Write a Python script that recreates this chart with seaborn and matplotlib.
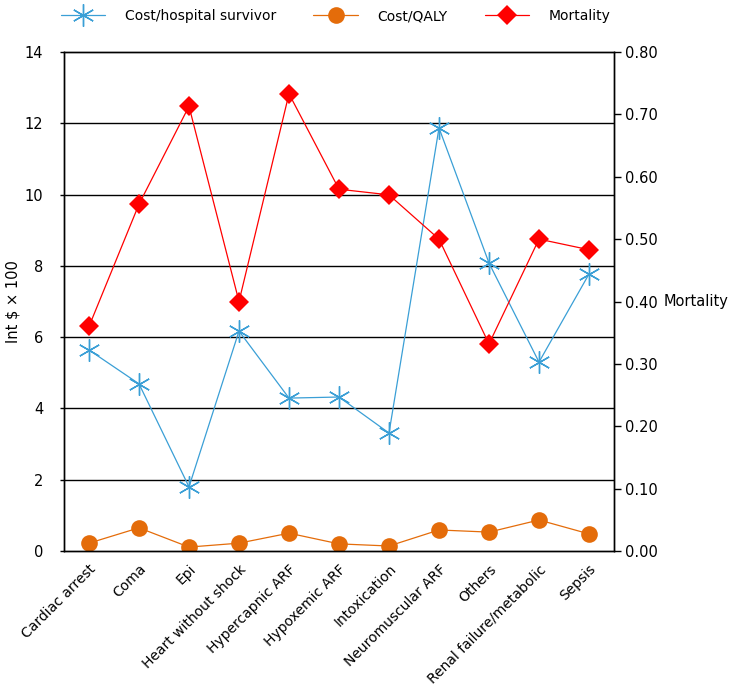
import matplotlib
matplotlib.use("Agg")
import matplotlib.pyplot as plt
import seaborn as sns
import pandas as pd
import numpy as np
from matplotlib.lines import Line2D

categories = ["Cardiac arrest", "Coma", "Epi", "Heart without shock", "Hypercapnic ARF",
              "Hypoxemic ARF", "Intoxication", "Neuromuscular ARF", "Others",
              "Renal failure/metabolic", "Sepsis"]
cost_survivor = [5.64, 4.69, 1.80, 6.17, 4.29, 4.32, 3.31, 11.87, 8.08, 5.30, 7.77]
cost_qaly = [0.22, 0.65, 0.11, 0.22, 0.50, 0.20, 0.14, 0.59, 0.53, 0.87, 0.48]
mortality = [0.36, 0.556, 0.713, 0.40, 0.733, 0.58, 0.571, 0.50, 0.332, 0.50, 0.483]
left_ticks = [0, 2, 4, 6, 8, 10, 12, 14]
right_ticks = [0.0, 0.1, 0.2, 0.3, 0.4, 0.5, 0.6, 0.7, 0.8]

sns.set_theme(style="white")
plt.rcParams['font.family'] = ['DejaVu Sans']
plt.rcParams['text.color'] = 'black'
plt.rcParams['axes.labelcolor'] = 'black'
plt.rcParams['xtick.color'] = 'black'
plt.rcParams['ytick.color'] = 'black'

BLUE = "#3A9FD6"
ORANGE = "#E46C0A"
RED = "#FF0000"

df = pd.DataFrame({"pos": np.arange(len(categories)), "cat": categories,
                   "survivor": cost_survivor, "qaly": cost_qaly, "mort": mortality})

fig = plt.figure(figsize=(7.38, 6.94), dpi=100)
ax = fig.add_axes([64/738, 1-551/694, 550/738, (551-52)/694])
ax2 = ax.twinx()

for y in left_ticks[1:-1]:
    ax.axhline(y, color="black", lw=1.0, zorder=0)

sns.lineplot(data=df, x="pos", y="survivor", ax=ax, color=BLUE, lw=0.9,
             marker=(6, 2, 0), markersize=16, markeredgewidth=1.0,
             markeredgecolor=BLUE, label="Cost/hospital survivor", legend=False)
sns.lineplot(data=df, x="pos", y="qaly", ax=ax, color=ORANGE, lw=0.9,
             marker="o", markersize=12, markeredgewidth=0, markerfacecolor=ORANGE,
             label="Cost/QALY", legend=False)
sns.lineplot(data=df, x="pos", y="mort", ax=ax2, color=RED, lw=0.9,
             marker="D", markersize=10, markeredgewidth=0, markerfacecolor=RED,
             label="Mortality", legend=False)

ax.set_xlim(-0.5, len(categories) - 0.5)
ax.set_ylim(0, 14)
ax2.set_ylim(0, 0.8)
ax.set_yticks(left_ticks)
ax.set_yticklabels([str(t) for t in left_ticks], fontsize=10.5)
ax2.set_yticks(right_ticks)
ax2.set_yticklabels([f"{t:.2f}" for t in right_ticks], fontsize=10.5)
ax.set_xticks(df["pos"])
ax.set_xticklabels(categories, rotation=45, ha="right", rotation_mode="anchor", fontsize=10)
ax.tick_params(axis="x", length=0, pad=8)
ax.tick_params(axis="y", direction="out", length=3, width=1, color="black", pad=12)
ax2.tick_params(axis="y", direction="out", length=5, width=1, color="black", pad=3)
ax.set_xlabel("")
ax.set_ylabel("Int $ × 100", fontsize=10.5)
ax.yaxis.set_label_coords(-0.08, 0.5)
ax2.set_ylabel("Mortality", fontsize=10.5, rotation=0, ha="left", va="center")
ax2.yaxis.set_label_coords(1.09, 0.5)

for a in (ax, ax2):
    for s in a.spines.values():
        s.set_color("black")
        s.set_linewidth(1.0)

h = [Line2D([], [], color=BLUE, lw=0.9, marker=(6, 2, 0), markersize=16, markeredgecolor=BLUE),
     Line2D([], [], color=ORANGE, lw=0.9, marker="o", markersize=12, markeredgewidth=0, markerfacecolor=ORANGE),
     Line2D([], [], color=RED, lw=0.9, marker="D", markersize=10, markeredgewidth=0, markerfacecolor=RED)]
fig.legend(h, ["Cost/hospital survivor", "Cost/QALY", "Mortality"], loc="upper center",
           bbox_to_anchor=(0.455, 1.005), ncol=3, frameon=False, fontsize=10,
           handlelength=3.2, handletextpad=1.4, columnspacing=2.7)

fig.savefig("out.png", dpi=100)
